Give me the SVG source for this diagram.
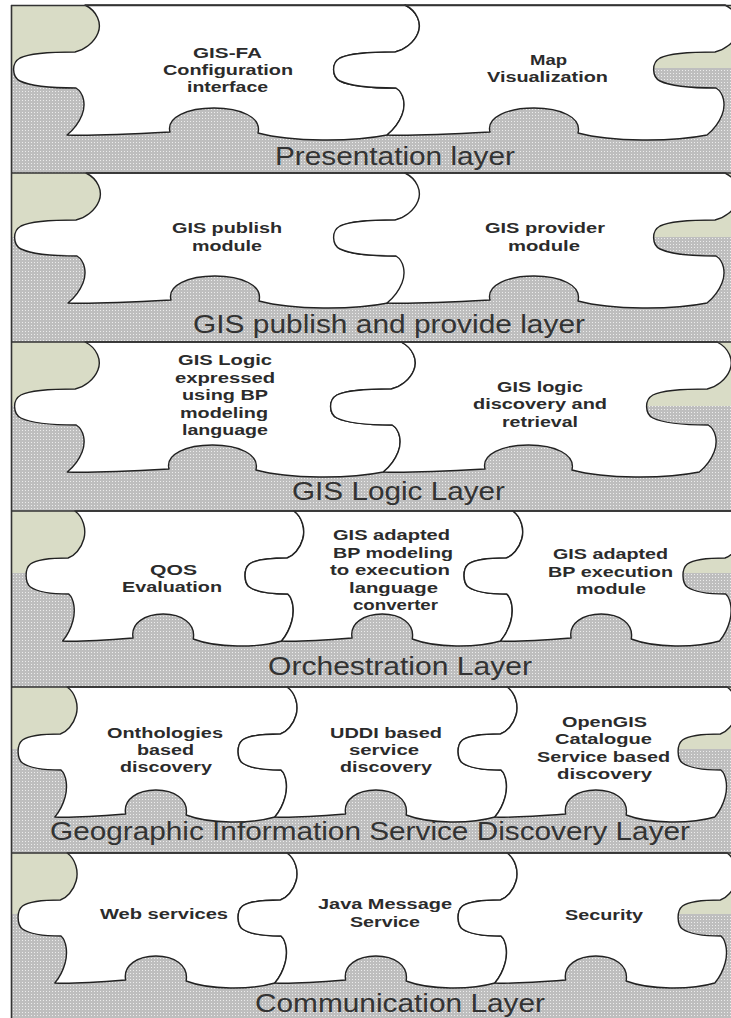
<svg xmlns="http://www.w3.org/2000/svg" xmlns:xlink="http://www.w3.org/1999/xlink" width="731" height="1018" viewBox="0 0 731 1018">
<style>
.nt{font-family:"Liberation Sans",Arial,sans-serif;font-weight:bold;font-size:14px;fill:#2b2b2b}
.lt{font-family:"Liberation Sans",Arial,sans-serif;font-size:25px;fill:#333}
.olive{fill:#d9dcc6}
.gray{fill:url(#dots)}
.sep{stroke:#333;stroke-width:1.6;fill:none}
</style>
<defs>
<pattern id="dots" width="3" height="3" patternUnits="userSpaceOnUse">
<rect width="3" height="3" fill="#bebebe"/>
<rect x="1" y="1" width="1" height="1" fill="#ececec"/>
</pattern>
<path id="pc" fill="#fff" stroke="#222" stroke-width="1.4" stroke-linejoin="round" vector-effect="non-scaling-stroke" d="M73,0 L393,0 C405,6 410,18 406,28 C402,38 392,45 383,47 C365,47 338,48 328,53 C319,58 320,72 328,76 C340,82 370,83 384,83 C392,88 394,100 390,110 C386,120 380,126 375,130 C340,137 280,137 246,128 C250,112 228,103 202,103 C176,103 154,112 158,127 C120,129 80,131 55,130 C60,126 66,120 70,110 C74,100 72,88 64,83 C50,83 20,82 8,76 C0,72 -1,58 8,53 C18,48 45,47 63,47 C72,45 82,38 86,28 C90,18 85,6 73,0 Z"/>
</defs>

<g id="backgrounds">
<rect class="olive" x="12" y="5" width="719" height="63"/>
<rect class="gray" x="12" y="68" width="719" height="105"/>
<rect class="olive" x="12" y="173" width="719" height="64"/>
<rect class="gray" x="12" y="237" width="719" height="105"/>
<rect class="olive" x="12" y="342" width="719" height="64"/>
<rect class="gray" x="12" y="406" width="719" height="105"/>
<rect class="olive" x="12" y="511" width="719" height="62"/>
<rect class="gray" x="12" y="573" width="719" height="114"/>
<rect class="olive" x="12" y="687" width="719" height="62"/>
<rect class="gray" x="12" y="749" width="719" height="104"/>
<rect class="olive" x="12" y="853" width="719" height="61"/>
<rect class="gray" x="12" y="914" width="719" height="104"/>
</g>

<g id="connectors"></g>

<g id="node-gisfa-config">
<use xlink:href="#pc" href="#pc" transform="translate(12,5)"/>
<text class="nt" x="193" y="58" textLength="69" lengthAdjust="spacingAndGlyphs">GIS-FA</text>
<text class="nt" x="163" y="75" textLength="130" lengthAdjust="spacingAndGlyphs">Configuration</text>
<text class="nt" x="187" y="92" textLength="81" lengthAdjust="spacingAndGlyphs">interface</text>
</g>
<g id="node-map-visualization">
<use xlink:href="#pc" href="#pc" transform="translate(332,5)"/>
<text class="nt" x="530" y="65" textLength="37" lengthAdjust="spacingAndGlyphs">Map</text>
<text class="nt" x="487" y="82" textLength="121" lengthAdjust="spacingAndGlyphs">Visualization</text>
</g>

<g id="node-gis-publish">
<use xlink:href="#pc" href="#pc" transform="translate(13,173)"/>
<text class="nt" x="172" y="233" textLength="110" lengthAdjust="spacingAndGlyphs">GIS publish</text>
<text class="nt" x="192" y="251" textLength="70" lengthAdjust="spacingAndGlyphs">module</text>
</g>
<g id="node-gis-provider">
<use xlink:href="#pc" href="#pc" transform="translate(332,173)"/>
<text class="nt" x="485" y="233" textLength="120" lengthAdjust="spacingAndGlyphs">GIS provider</text>
<text class="nt" x="508" y="251" textLength="72" lengthAdjust="spacingAndGlyphs">module</text>
</g>

<g id="node-gis-logic-bp">
<use xlink:href="#pc" href="#pc" transform="translate(13,342) scale(0.9875,1)"/>
<text class="nt" x="178" y="365" textLength="94" lengthAdjust="spacingAndGlyphs">GIS Logic</text>
<text class="nt" x="175" y="383" textLength="100" lengthAdjust="spacingAndGlyphs">expressed</text>
<text class="nt" x="182" y="400" textLength="86" lengthAdjust="spacingAndGlyphs">using BP</text>
<text class="nt" x="180" y="418" textLength="88" lengthAdjust="spacingAndGlyphs">modeling</text>
<text class="nt" x="182" y="435" textLength="86" lengthAdjust="spacingAndGlyphs">language</text>
</g>
<g id="node-gis-logic-discovery">
<use xlink:href="#pc" href="#pc" transform="translate(329,342) scale(0.9875,1)"/>
<text class="nt" x="497" y="392" textLength="86" lengthAdjust="spacingAndGlyphs">GIS logic</text>
<text class="nt" x="473" y="409" textLength="134" lengthAdjust="spacingAndGlyphs">discovery and</text>
<text class="nt" x="502" y="427" textLength="76" lengthAdjust="spacingAndGlyphs">retrieval</text>
</g>

<g id="node-qos">
<use xlink:href="#pc" href="#pc" transform="translate(25,511) scale(0.684,1)"/>
<text class="nt" x="150" y="575" textLength="47" lengthAdjust="spacingAndGlyphs">QOS</text>
<text class="nt" x="122" y="592" textLength="100" lengthAdjust="spacingAndGlyphs">Evaluation</text>
</g>
<g id="node-bp-converter">
<use xlink:href="#pc" href="#pc" transform="translate(244,511) scale(0.684,1)"/>
<text class="nt" x="333" y="540" textLength="117" lengthAdjust="spacingAndGlyphs">GIS adapted</text>
<text class="nt" x="333" y="558" textLength="120" lengthAdjust="spacingAndGlyphs">BP modeling</text>
<text class="nt" x="330" y="575" textLength="120" lengthAdjust="spacingAndGlyphs">to execution</text>
<text class="nt" x="349" y="593" textLength="89" lengthAdjust="spacingAndGlyphs">language</text>
<text class="nt" x="353" y="610" textLength="85" lengthAdjust="spacingAndGlyphs">converter</text>
</g>
<g id="node-bp-execution">
<use xlink:href="#pc" href="#pc" transform="translate(463,511) scale(0.684,1)"/>
<text class="nt" x="553" y="559" textLength="115" lengthAdjust="spacingAndGlyphs">GIS adapted</text>
<text class="nt" x="548" y="577" textLength="125" lengthAdjust="spacingAndGlyphs">BP execution</text>
<text class="nt" x="576" y="594" textLength="70" lengthAdjust="spacingAndGlyphs">module</text>
</g>

<g id="node-onthologies">
<use xlink:href="#pc" href="#pc" transform="translate(17,687) scale(0.6875,1)"/>
<text class="nt" x="107" y="738" textLength="116" lengthAdjust="spacingAndGlyphs">Onthologies</text>
<text class="nt" x="137" y="755" textLength="57" lengthAdjust="spacingAndGlyphs">based</text>
<text class="nt" x="120" y="772" textLength="92" lengthAdjust="spacingAndGlyphs">discovery</text>
</g>
<g id="node-uddi">
<use xlink:href="#pc" href="#pc" transform="translate(237,687) scale(0.6875,1)"/>
<text class="nt" x="330" y="738" textLength="112" lengthAdjust="spacingAndGlyphs">UDDI based</text>
<text class="nt" x="349" y="755" textLength="70" lengthAdjust="spacingAndGlyphs">service</text>
<text class="nt" x="340" y="772" textLength="92" lengthAdjust="spacingAndGlyphs">discovery</text>
</g>
<g id="node-opengis">
<use xlink:href="#pc" href="#pc" transform="translate(457,687) scale(0.6875,1)"/>
<text class="nt" x="562" y="727" textLength="85" lengthAdjust="spacingAndGlyphs">OpenGIS</text>
<text class="nt" x="555" y="744" textLength="97" lengthAdjust="spacingAndGlyphs">Catalogue</text>
<text class="nt" x="537" y="762" textLength="133" lengthAdjust="spacingAndGlyphs">Service based</text>
<text class="nt" x="557" y="779" textLength="95" lengthAdjust="spacingAndGlyphs">discovery</text>
</g>

<g id="node-web-services">
<use xlink:href="#pc" href="#pc" transform="translate(17,853) scale(0.6875,1)"/>
<text class="nt" x="100" y="919" textLength="128" lengthAdjust="spacingAndGlyphs">Web services</text>
</g>
<g id="node-jms">
<use xlink:href="#pc" href="#pc" transform="translate(237,853) scale(0.6875,1)"/>
<text class="nt" x="318" y="909" textLength="134" lengthAdjust="spacingAndGlyphs">Java Message</text>
<text class="nt" x="350" y="927" textLength="70" lengthAdjust="spacingAndGlyphs">Service</text>
</g>
<g id="node-security">
<use xlink:href="#pc" href="#pc" transform="translate(457,853) scale(0.6875,1)"/>
<text class="nt" x="565" y="920" textLength="78" lengthAdjust="spacingAndGlyphs">Security</text>
</g>

<g id="layer-labels">
<text class="lt" x="275" y="165" textLength="240" lengthAdjust="spacingAndGlyphs">Presentation layer</text>
<text class="lt" x="193" y="333" textLength="392" lengthAdjust="spacingAndGlyphs">GIS publish and provide layer</text>
<text class="lt" x="292" y="500" textLength="213" lengthAdjust="spacingAndGlyphs">GIS Logic Layer</text>
<text class="lt" x="268" y="675" textLength="264" lengthAdjust="spacingAndGlyphs">Orchestration Layer</text>
<text class="lt" x="50" y="840" textLength="640" lengthAdjust="spacingAndGlyphs">Geographic Information Service Discovery Layer</text>
<text class="lt" x="255" y="1012" textLength="290" lengthAdjust="spacingAndGlyphs">Communication Layer</text>
</g>

<g id="frame">
<line class="sep" x1="11" y1="5.5" x2="731" y2="5.5"/>
<line class="sep" x1="11" y1="173" x2="731" y2="173"/>
<line class="sep" x1="11" y1="342" x2="731" y2="342"/>
<line class="sep" x1="11" y1="511" x2="731" y2="511"/>
<line class="sep" x1="11" y1="687" x2="731" y2="687"/>
<line class="sep" x1="11" y1="853" x2="731" y2="853"/>
<line class="sep" x1="11.5" y1="5" x2="11.5" y2="1018"/>
</g>
</svg>
